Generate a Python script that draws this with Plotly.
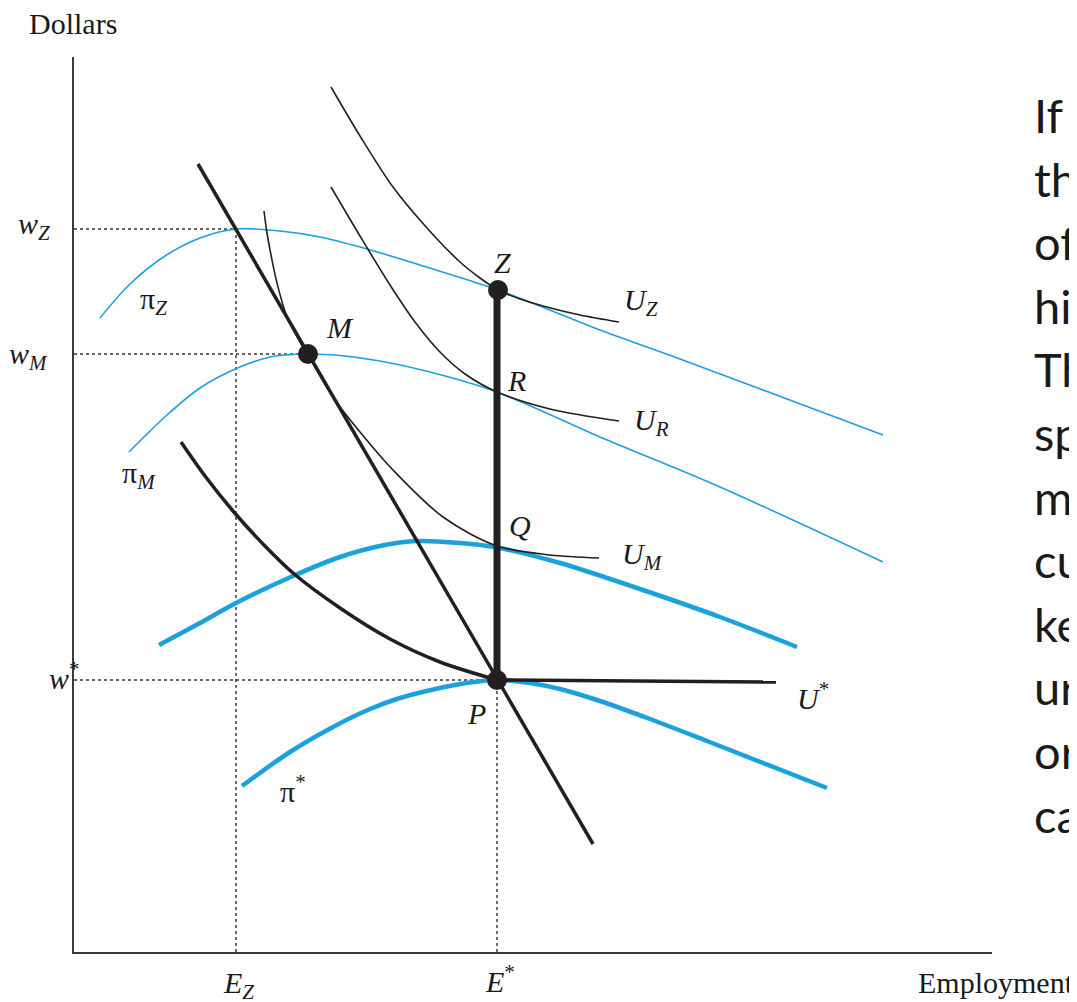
import plotly.graph_objects as go

# ---------------- data (diagram units: employment on x, dollars on y) ----------------
X_MAX, Y_MAX = 918, 895

# labour demand curve
demand_x = [124, 519]
demand_y = [788, 108]

# isoprofit curves
piZ_x = [26, 56, 91, 126, 162, 206, 246, 286, 346, 424, 526, 606, 809]
piZ_y = [634, 668, 696, 714, 723, 721, 715, 705, 687, 662, 622, 593, 517]

piM_x = [55, 93, 126, 159, 196, 234, 266, 306, 356, 423, 526, 646, 809]
piM_y = [500, 537, 564, 582, 595, 598, 596.5, 591, 580, 560, 515, 465, 390]

piM2_x = [85, 126, 162, 219, 266, 306, 343, 386, 423, 486, 566, 646, 723]
piM2_y = [307, 329, 349, 376, 395, 406, 411, 409, 404.5, 389, 363, 335, 305]

piS_x = [168, 216, 259, 296, 326, 366, 396, 423, 456, 486, 526, 576, 633, 753]
piS_y = [166, 200, 225, 243, 254, 264, 269.5, 272, 269, 263, 251, 233, 211, 164]

# union indifference curves
UZ_x = [257, 286, 319, 353, 386, 406, 424, 446, 469, 506, 545]
UZ_y = [865, 816, 765, 724, 690, 674, 662, 653, 646, 637, 630]

UR_x = [257, 286, 316, 341, 366, 391, 423, 476, 545]
UR_y = [765, 716, 667, 630, 600, 578, 560, 543, 531]

UM_x = [190, 193, 198, 203, 213, 226, 238, 261, 286, 319, 369, 423, 476, 525]
UM_y = [741, 719, 692, 669, 635, 610, 590, 552, 520, 482, 435, 406, 397, 394]

US_x = [107, 131, 159, 189, 219, 266, 316, 366, 423]
US_y = [510, 476, 441, 408, 379, 344, 313, 290, 272]
US_flat_x = [423, 702]
US_flat_y = [272, 270]

# contract curve Z-P
contract_x = [423, 423]
contract_y = [662, 272]

# points
pts_names = ["Z", "M", "P"]
pts_x = [424, 234, 423]
pts_y = [662, 598, 272]

# reference levels
wage_names = ["w_Z", "w_M", "w*"]
wage_vals = [723, 598, 272]
wage_ends = [162, 234, 423]
emp_names = ["E_Z", "E*"]
emp_vals = [162, 423]
emp_tops = [723, 272]

side_text = ["If t", "th", "of", "hi", "Th", "sp", "m", "cu", "ke", "ur", "or", "ca"]

# ---------------- styles ----------------
BLUE = "#1ba1dc"
BLACK = "#231f20"
SERIF = "Liberation Serif"

fig = go.Figure()


def line(x, y, color, width, shape="spline", dash=None, smoothing=0.9):
    ln = dict(color=color, width=width, shape=shape, dash=dash)
    if shape == "spline":
        ln["smoothing"] = smoothing
    fig.add_trace(go.Scatter(x=x, y=y, mode="lines", line=ln,
                             hoverinfo="skip", showlegend=False))


# dotted guides
for v, e in zip(wage_vals, wage_ends):
    line([0, e], [v, v], "#333333", 1.4, shape="linear", dash="dot")
for v, t in zip(emp_vals, emp_tops):
    line([v, v], [0, t], "#333333", 1.4, shape="linear", dash="dot")

# isoprofit curves
line(piZ_x, piZ_y, BLUE, 1.6)
line(piM_x, piM_y, BLUE, 1.6)
line(piM2_x, piM2_y, BLUE, 4.5)
line(piS_x, piS_y, BLUE, 4.5)

# indifference curves
line(UZ_x, UZ_y, BLACK, 1.6)
line(UR_x, UR_y, BLACK, 1.6)
line(UM_x, UM_y, BLACK, 1.6)
line(US_x, US_y, BLACK, 3.5)
line(US_flat_x, US_flat_y, BLACK, 3.5, shape="linear")

# demand curve and contract segment
line(demand_x, demand_y, BLACK, 3.5, shape="linear")
line(contract_x, contract_y, BLACK, 7, shape="linear")

fig.add_trace(go.Scatter(x=pts_x, y=pts_y, mode="markers",
                         marker=dict(color=BLACK, size=20),
                         hoverinfo="skip", showlegend=False))

# ---------------- annotations ----------------
def px(xd):
    return xd / X_MAX


def py(yd):
    return yd / Y_MAX


annots = []


def label(text, x, y, xanchor="center", size=30, family=SERIF, yanchor="middle"):
    annots.append(dict(text=text, x=px(x), y=py(y), xref="paper", yref="paper",
                       xanchor=xanchor, yanchor=yanchor, showarrow=False,
                       font=dict(family=family, size=size, color="#1a1a1a")))


label("Dollars", -1, 928)
label("Employment", 842, -31, xanchor="left")

label("<i>w</i><sub><i>Z</i></sub>", -22, 726, xanchor="right")
label("<i>w</i><sub><i>M</i></sub>", -24, 596, xanchor="right")
label("<i>w</i><sup>*</sup>", 8, 276, xanchor="right")
label("<i>E</i><sub><i>Z</i></sub>", 164, -33)
label("<i>E</i><sup>*</sup>", 426, -27)

label("π<sub><i>Z</i></sub>", 64, 651, xanchor="left")
label("π<sub><i>M</i></sub>", 46, 477, xanchor="left")
label("π<sup>*</sup>", 204, 163, xanchor="left")

label("<i>M</i>", 266, 624)
label("<i>Z</i>", 428, 689)
label("<i>R</i>", 442, 572)
label("<i>Q</i>", 446, 427)
label("<i>P</i>", 402, 239)

label("<i>U</i><sub><i>Z</i></sub>", 548, 650, xanchor="left")
label("<i>U</i><sub><i>R</i></sub>", 558, 530, xanchor="left")
label("<i>U</i><sub><i>M</i></sub>", 546, 396, xanchor="left")
label("<i>U</i><sup>*</sup>", 721, 256, xanchor="left")

for i, t in enumerate(side_text):
    label(t, 958, 952 - (115 + 63.6 * i), xanchor="left", size=47, family="Lato")

# the page body adds an 8px offset, so the figure is drawn 8px smaller/shifted
fig.update_layout(
    width=1069, height=994,
    margin=dict(l=66, r=85, t=49, b=50),
    paper_bgcolor="white", plot_bgcolor="white",
    showlegend=False,
    annotations=annots,
    xaxis=dict(range=[0, X_MAX], showgrid=False, zeroline=False, showticklabels=False,
               ticks="", showline=True, linecolor="#3a3a3a", linewidth=2, fixedrange=True),
    yaxis=dict(range=[0, Y_MAX], showgrid=False, zeroline=False, showticklabels=False,
               ticks="", showline=True, linecolor="#3a3a3a", linewidth=2, fixedrange=True),
)

fig.write_html("out.html")
